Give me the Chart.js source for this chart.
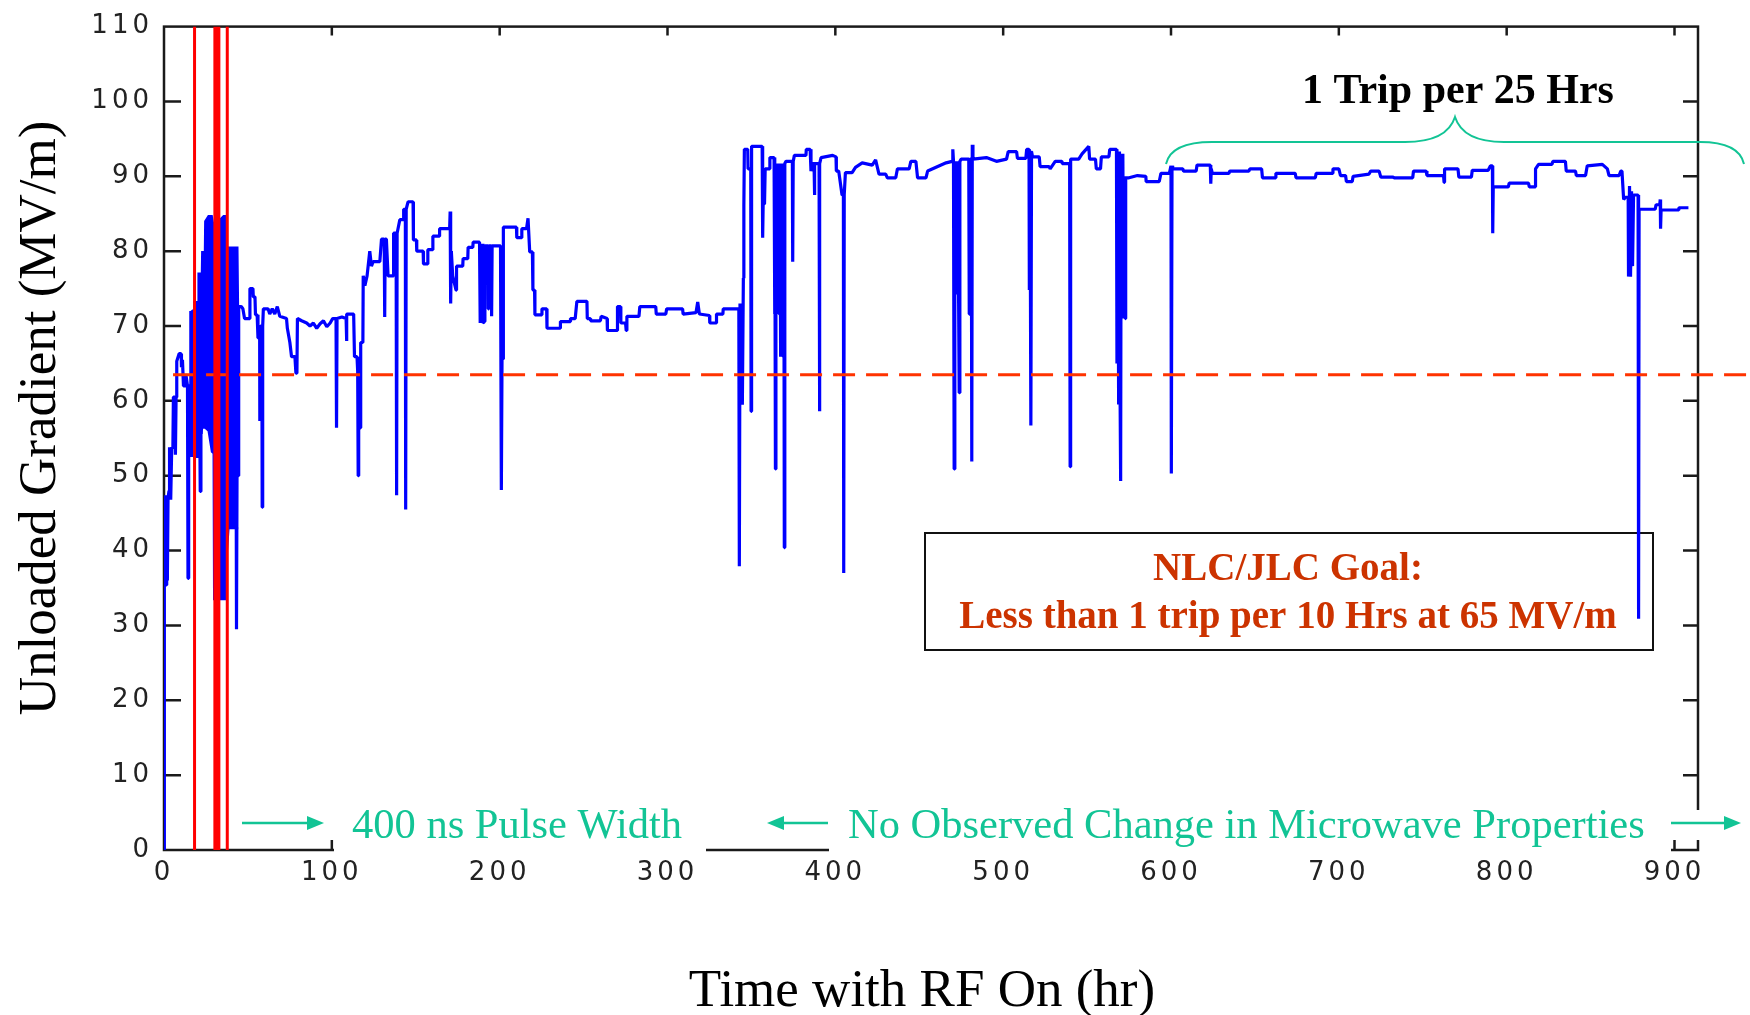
<!DOCTYPE html>
<html>
<head>
<meta charset="utf-8">
<title>Unloaded Gradient vs Time with RF On</title>
<script src="https://cdn.jsdelivr.net/npm/chart.js@4.4.1/dist/chart.umd.min.js"></script>
<style>
  html, body { margin: 0; padding: 0; background: #fff; }
  canvas { display: block; }
</style>
</head>
<body>
<canvas id="chart" width="1750" height="1015"></canvas>
<script>
// [hours with RF on, unloaded gradient MV/m]
const gradientTrace = [
  [0,0],[0,42],[0.4,35.4],[0.8,47.4],[1.2,35.4],[1.6,47.4],[2,36],[2.4,47],[3,48],[3.3,53.8],[4,46.8],[4.6,53.8],
  [5.3,53.8],[5.6,60.5],[6.5,60.5],[6.8,52.8],[7.2,60.5],[7.6,65.3],[9,66.3],[10.2,66.3],[10.4,64.5],[11,65.5],
  [11.6,62],[12.6,62],[13,63.6],[14,62],[14.3,36.3],[14.7,62],[15.6,62],[16,72],[16.4,52.5],[16.8,72],[17.5,72],
  [21.2,60],[21.6,47.9],[22,60],[43,50],[43.2,29.5],[43.5,50],[44.2,50],[44.5,72.6],[46,72.6],[47,72.3],[48,71],
  [51,71],[51.2,75],[53,75],[53.2,73.9],[54.2,73.9],[54.5,71.5],[55.5,71.5],[56,68.4],[57,68.4],[57.1,57.3],
  [57.5,70],[58.3,70],[58.5,45.8],[58.8,70],[59.2,72.3],[62,72.3],[63,71.6],[64.5,72.3],[66,71.6],[67.5,72.6],
  [69,71.3],[73,71],[73.5,69.7],[75,67.8],[76,65.9],[78,65.9],[78.6,63.7],[79.2,63.7],[79.5,71],[82,70.7],
  [85,70.4],[87,70],[89,70.4],[91,69.7],[93,70.3],[95,70.7],[97,69.9],[99,70.4],[100.5,71],[102.5,71],
  [102.8,56.4],[103.1,71],[106,71.2],[108.5,71],[108.7,68],[109,71.6],[113,71.6],[113.5,65.9],[115,65.9],
  [115.4,64],[115.7,50],[116,64],[116.8,56.4],[117.2,67.8],[118.5,67.8],[118.7,76.7],[119.7,75.4],[121,76.7],
  [122.6,80],[123.6,78],[124.6,78.6],[128.6,78.6],[129.6,81.6],[131.2,81.6],[131.5,71.2],[131.8,81.6],
  [132.5,81.6],[133.5,76.7],[136.5,76.7],[136.8,82.4],[138.3,82.4],[138.6,47.4],[138.9,82.4],[140.5,84.2],
  [142.5,84.2],[142.8,85.6],[143.8,85.6],[144,45.5],[144.3,85.6],[145.4,86.6],[148.4,86.6],[148.6,81.5],
  [150.4,81.5],[150.6,80],[154.4,80],[154.6,78.3],[157,78.3],[157.2,80.2],[160,80.2],[160.2,82],[164,82],
  [164.2,83],[170.2,83],[170.5,85.3],[170.8,73],[171.2,80],[172,76.7],[174,74.8],[174.3,78],[178,78],
  [178.2,79],[181,79],[181.2,80.5],[184,80.5],[184.2,81.2],[188,81.2],[188.4,70.4],[189.5,81],[190,70.4],
  [191,70.6],[191.2,80.7],[193,80.7],[193.2,72.3],[193.5,80.7],[195,80.7],[195.2,71.3],[195.5,80.7],
  [200.5,80.7],[201,48.1],[201.4,65.6],[202,65.6],[202.2,83.2],[210,83.2],[210.2,81.8],[213,81.8],[213.2,83],
  [216,83],[216.9,84.4],[217.9,79.9],[219.5,79.9],[219.8,74.8],[220.8,74.8],[221,71.5],[225,71.5],[225.2,72.3],
  [228,72.3],[228.2,69.7],[236,69.7],[236.2,70.6],[242,70.6],[242.2,71],[245,71],[246,73.3],[252,73.3],
  [252.2,71],[254,71],[254.2,70.7],[260,70.7],[260.5,71.3],[264,71],[264.2,69.4],[270,69.4],[270.2,72.6],
  [272,72.6],[272.2,70.4],[275,70.4],[275.4,69.4],[275.8,71.3],[283,71.3],[283.5,72.6],[293,72.6],[293.3,71.6],
  [299,71.6],[299.5,72.3],[309,72.3],[309.3,71.6],[317,71.8],[318,73.2],[319,71.6],[325,71.4],[325.2,70.4],
  [329,70.4],[329.2,71.6],[333,71.6],[333.2,72.3],[342.5,72.3],[342.8,37.9],[343.2,73],[343.5,59.5],[344.2,73],
  [344.6,59.5],[345.2,76.4],[345.5,86],[345.8,93.6],[347.8,93.6],[348,91],[349.6,91],[349.8,58.6],[350,91],
  [350.2,94],[356.4,94],[356.7,81.8],[357,86.3],[357.8,86.3],[358.2,91],[360.7,91],[361,92.5],[363.5,92.5],
  [363.8,71.6],[364,91.7],[364.3,50.9],[364.6,91.7],[365,71.6],[365.4,91.7],[365.8,71.6],[366.2,91.7],
  [366.6,71.6],[367,91.7],[367.4,65.9],[367.8,91.7],[368.2,65.9],[368.6,91.7],[369,65.9],[369.3,91.7],
  [369.6,40.4],[369.9,91.7],[370.6,92],[374.4,92],[374.6,78.6],[374.9,92],[375.6,92.8],[382.5,92.8],
  [382.7,93.6],[385,93.6],[385.5,90.7],[386.5,91.7],[387.3,91.7],[387.5,87.5],[387.8,91.7],[390.3,91.7],
  [390.5,58.6],[390.8,91.7],[391.5,92.5],[398.4,92.8],[400.4,92.6],[400.6,90.7],[402,90.7],[404,87.5],
  [404.8,87.5],[405,37],[405.3,87.5],[406,90.5],[410,90.5],[412,91.2],[416,91.8],[422,91.5],[424,92.2],
  [426,90.3],[430,90.3],[431,89.8],[436,89.8],[437,91],[444,91],[445,92],[448,92],[449,89.8],[454,89.8],
  [455,90.7],[458,91],[462,91.4],[466,91.8],[469.6,92],[470,93.6],[470.4,92],[470.8,50.9],[471.2,79.3],
  [471.8,92],[472.2,74.2],[472.8,92],[473.3,79],[473.8,61.1],[474.2,92],[475,92.3],[479.5,92.3],[479.8,71.6],
  [480.2,92.3],[481,92.3],[481.3,51.9],[481.6,94.2],[482,92.3],[490,92.5],[496,92],[502,92.3],[503,93.3],
  [508,93.3],[508.5,92.4],[513.5,92.4],[514,93.6],[515.4,93.6],[515.6,74.8],[516,93.4],[516.5,56.7],
  [516.9,93.3],[517.5,92.6],[521.5,92.6],[522,91.3],[527.4,91.3],[528,91],[531,92],[535,92],[535.2,91.7],
  [539.6,91.7],[539.9,51.2],[540.2,92.3],[545,92.3],[547,93],[551,94],[551.5,92.3],[555,92.3],[555.5,91],
  [558,91],[558.5,92.6],[563,92.6],[563.5,93.6],[567.5,93.6],[567.8,65],[568.3,93.3],[568.8,59.5],[569.3,93.3],
  [569.7,59.5],[570,49.3],[570.3,93],[570.8,71],[571.3,93],[571.8,71],[572.3,90],[572.8,71],[573,89.8],
  [575,89.8],[580,90.1],[585,90],[585.2,89.3],[593,89.3],[594,90.4],[599,90.4],[600,91.4],[600.2,50.3],
  [600.6,91.4],[601,91],[607,91],[607.5,90.7],[615,90.7],[615.5,91.5],[623.4,91.5],[623.7,89],[624,91],
  [624.6,90.4],[634.5,90.4],[635,90.7],[646.4,90.7],[647,91],[654,91],[654.5,89.8],[662,89.8],[662.5,90.4],
  [674,90.4],[674.5,89.8],[686,89.8],[686.5,90.4],[696,90.4],[696.5,91],[700,91],[701,90.1],[704,90.1],
  [704.5,89.3],[708,89.3],[708.5,90],[718,90.3],[719,90.7],[724,90.7],[725,89.9],[732,89.9],[733,89.8],
  [744,89.8],[744.5,90.7],[752,90.7],[752.5,90.1],[762.4,90.1],[762.7,89.2],[763,91],[771,91],[771.5,89.9],
  [779,89.9],[779.5,90.8],[789,90.8],[790.3,91.4],[791.5,91.4],[791.7,82.4],[792,88.6],[801,88.6],[801.5,89.1],
  [813,89.1],[813.5,88.6],[817,88.6],[817.2,91],[819,91.6],[827,91.6],[827.5,92],[835,92],[835.5,90.7],
  [841,90.7],[841.5,90.1],[847,90.1],[848,91.4],[857,91.6],[860,91],[861,90.1],[867,90.1],[868,90.7],
  [868.7,90.7],[869.7,86.9],[870.7,87.2],[872.4,87.2],[872.6,76.6],[873.2,88.7],[873.8,76.6],[874.4,88],
  [875,78],[875.6,87.5],[878.3,87.5],[878.6,30.9],[878.9,85.6],[888.5,85.6],[889,86.2],[891.2,86.2],
  [891.5,86.9],[891.7,83],[892,85.5],[902.4,85.5],[902.6,85.8],[908.3,85.8]
];

// the dense conditioning burst near the start: upper and lower edge
const burstHr   = [17.4, 20.3, 20.5, 22.5, 22.7, 24.3, 24.5, 26.5, 28.5, 29.5, 29.8, 35.5, 36.8, 37.2, 38.5, 43.8, 44.2];
const burstHigh = [73.2, 73.2, 77,   77,   79.9, 79.9, 84,   84.7, 84.7, 83.4, 83.4, 84.7, 84.7, 79.3, 80.5, 80.5, 72];
const burstLow  = [52.5, 52.5, 55.7, 55.7, 56.4, 56.4, 56.4, 56,   53.2, 53,   33.5, 33.5, 33.5, 38.9, 43,   43,   43];

// red markers where the pulse setup changed
const pulseMarkHr = [18.2, 31.5, 37.7];
const markWidth = [3, 7, 3];

// goal level (dashed)
const goalGradient = 63.5;
const goalSpanHr = [5.4, 950];

const TEAL = '#12c495';
const SERIF = '"Liberation Serif", "Times New Roman", serif';

function arrow(ctx, x1, x2, y) {
  const dir = Math.sign(x2 - x1);
  ctx.beginPath();
  ctx.moveTo(x1, y);
  ctx.lineTo(x2 - dir * 12, y);
  ctx.stroke();
  ctx.beginPath();
  ctx.moveTo(x2, y);
  ctx.lineTo(x2 - dir * 17, y - 7);
  ctx.lineTo(x2 - dir * 17, y + 7);
  ctx.closePath();
  ctx.fill();
}

const decor = {
  id: 'decor',
  beforeDraw(chart) {
    // the tick font in the original is spaced out
    chart.ctx.letterSpacing = '4px';
  },
  beforeDatasetsDraw(chart) {
    const { ctx, chartArea: a, scales: { x, y } } = chart;
    ctx.save();
    ctx.letterSpacing = '0px';

    // goal box, sits under the trace
    ctx.fillStyle = '#fff';
    ctx.fillRect(925, 533, 728, 117);
    ctx.strokeStyle = '#111';
    ctx.lineWidth = 2;
    ctx.strokeRect(925, 533, 728, 117);
    ctx.fillStyle = '#cc3300';
    ctx.font = 'bold 39px ' + SERIF;
    ctx.textAlign = 'center';
    ctx.textBaseline = 'alphabetic';
    ctx.fillText('NLC/JLC Goal:', 1288, 580);
    ctx.fillText('Less than 1 trip per 10 Hrs at 65 MV/m', 1288, 628);

    // box frame with inward ticks
    ctx.strokeStyle = '#1a1a1a';
    ctx.lineWidth = 2.5;
    ctx.strokeRect(a.left, a.top, a.right - a.left, a.bottom - a.top);
    ctx.beginPath();
    y.ticks.forEach(t => {
      if (t.value <= y.min || t.value >= y.max) return;
      const py = y.getPixelForValue(t.value);
      ctx.moveTo(a.left, py); ctx.lineTo(a.left + 17, py);
      ctx.moveTo(a.right, py); ctx.lineTo(a.right - 15, py);
    });
    x.ticks.forEach(t => {
      if (t.value <= x.min) return;
      const px = x.getPixelForValue(t.value);
      ctx.moveTo(px, a.top); ctx.lineTo(px, a.top + 9);
      ctx.moveTo(px, a.bottom); ctx.lineTo(px, a.bottom - 10);
    });
    ctx.stroke();
    ctx.restore();
  },
  afterDatasetsDraw(chart) {
    const { ctx } = chart;
    ctx.save();
    ctx.letterSpacing = '0px';

    // text boxes of the bottom notes hide parts of the x axis
    ctx.fillStyle = '#fff';
    ctx.fillRect(334, 800, 372, 58);
    ctx.fillRect(829, 800, 842, 58);
    ctx.fillRect(1680, 810, 65, 30);

    ctx.fillStyle = TEAL;
    ctx.strokeStyle = TEAL;
    ctx.lineWidth = 2.5;
    ctx.font = '42.5px ' + SERIF;
    ctx.textAlign = 'left';
    ctx.textBaseline = 'alphabetic';
    ctx.fillText('400 ns Pulse Width', 352, 838);
    ctx.fillText('No Observed Change in Microwave Properties', 848, 838);
    arrow(ctx, 242, 324, 823);
    arrow(ctx, 828, 767, 823);
    arrow(ctx, 1671, 1741, 823);

    // brace over the last stretch
    ctx.lineWidth = 2;
    ctx.beginPath();
    ctx.moveTo(1166, 164);
    ctx.quadraticCurveTo(1171, 142, 1212, 142);
    ctx.lineTo(1405, 142);
    ctx.quadraticCurveTo(1447, 142, 1455, 117);
    ctx.quadraticCurveTo(1463, 142, 1504, 142);
    ctx.lineTo(1700, 142);
    ctx.quadraticCurveTo(1739, 142, 1744, 164);
    ctx.stroke();

    ctx.fillStyle = '#000';
    ctx.font = 'bold 42px ' + SERIF;
    ctx.textAlign = 'center';
    ctx.fillText('1 Trip per 25 Hrs', 1458, 103);

    // axis titles
    ctx.font = '53px ' + SERIF;
    ctx.fillText('Time with RF On (hr)', 922, 1006);
    ctx.translate(55, 418);
    ctx.rotate(-Math.PI / 2);
    ctx.fillText('Unloaded Gradient (MV/m)', 0, 0);
    ctx.restore();
  }
};

const tickFont = { family: '"DejaVu Sans", Verdana, sans-serif', size: 26 };

new Chart(document.getElementById('chart'), {
  type: 'line',
  data: {
    datasets: [
      ...pulseMarkHr.map((h, i) => ({
        data: [{ x: h, y: 0 }, { x: h, y: 110 }],
        borderColor: '#ff0000',
        borderWidth: markWidth[i],
        order: 0
      })),
      {
        data: goalSpanHr.map(h => ({ x: h, y: goalGradient })),
        borderColor: '#ff3300',
        borderWidth: 3,
        borderDash: [22, 11],
        clip: false,
        order: 1
      },
      {
        data: gradientTrace.map(([h, g]) => ({ x: h, y: g })),
        borderColor: '#0000ff',
        borderWidth: 3.2,
        borderJoinStyle: 'bevel',
        order: 2
      },
      {
        data: burstHr.map((h, i) => ({ x: h, y: burstHigh[i] })),
        borderColor: '#0000ff',
        backgroundColor: '#0000ff',
        borderWidth: 2,
        fill: '+1',
        order: 3
      },
      {
        data: burstHr.map((h, i) => ({ x: h, y: burstLow[i] })),
        borderColor: '#0000ff',
        borderWidth: 2,
        fill: false,
        order: 3
      }
    ]
  },
  options: {
    responsive: false,
    animation: false,
    devicePixelRatio: 1,
    layout: { padding: { top: 23, right: 52, left: 0, bottom: 0 } },
    elements: { point: { radius: 0 }, line: { tension: 0 } },
    plugins: { legend: { display: false }, tooltip: { enabled: false } },
    scales: {
      x: {
        type: 'linear',
        min: 0,
        max: 914,
        grid: { display: false, drawTicks: false },
        border: { display: false },
        ticks: { stepSize: 100, includeBounds: false, autoSkip: false, maxRotation: 0, padding: 8, color: '#222', font: tickFont },
        afterFit: s => { s.height = 165; }
      },
      y: {
        min: 0,
        max: 110,
        grid: { display: false, drawTicks: false },
        border: { display: false },
        ticks: { stepSize: 10, padding: 11, color: '#222', font: tickFont },
        afterFit: s => { s.width = 164; }
      }
    }
  },
  plugins: [decor]
});
</script>
</body>
</html>
